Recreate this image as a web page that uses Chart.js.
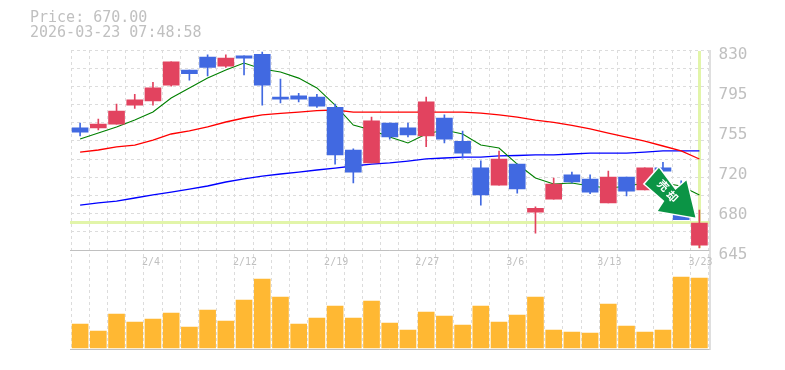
<!DOCTYPE html>
<html>
<head>
<meta charset="utf-8">
<title>Price chart</title>
<script src="https://cdn.jsdelivr.net/npm/chart.js@4/dist/chart.umd.min.js"></script>
<style>
    body { margin: 0; background: #fff; }
    #info { position: absolute; left: 30px; top: 10px; font: 15px/15px "DejaVu Sans Mono", monospace; color: #c0c0c0; white-space: pre; }
</style>
</head>
<body>
<div id="info">Price: 670.00
2026-03-23 07:48:58</div>
<canvas id="chart" width="785" height="370" style="display:block"></canvas>
<script>
const dates = ['1/29', '1/30', '2/2', '2/3', '2/4', '2/5', '2/6', '2/9', '2/10', '2/12', '2/13', '2/16', '2/17', '2/18', '2/19', '2/20', '2/24', '2/25', '2/26', '2/27', '3/2', '3/3', '3/4', '3/5', '3/6', '3/9', '3/10', '3/11', '3/12', '3/13', '3/16', '3/17', '3/18', '3/19', '3/23'];
const opens = [758, 758, 761.5, 779, 783, 797.5, 811.5, 823.5, 815, 824.5, 826, 786.5, 787.5, 786.5, 777, 737.5, 725.5, 762.5, 758, 750.5, 767, 745.5, 721, 705, 724.5, 680, 692, 714.5, 710.5, 688.5, 712.5, 700.5, 721, 691, 649.5];
const highs = [762.5, 766, 780, 789, 800, 819, 811.5, 825.5, 825.5, 824.5, 828, 803, 790, 789, 780, 738.5, 768, 762.5, 762.5, 786.5, 770, 755, 727.5, 736.5, 724.5, 685, 711.5, 717, 714.5, 718, 712.5, 721, 726, 709, 682];
const lows = [750.5, 756, 761.5, 776, 779, 796.5, 802, 806, 814, 807, 779, 781, 782, 777, 724.5, 707, 725.5, 747.5, 749.5, 740.5, 744, 730, 686.5, 705, 697.5, 660.5, 692, 707, 697, 688.5, 695, 700.5, 713, 673, 647];
const closes = [754, 761.5, 773.5, 784, 795, 819, 808, 814, 822.5, 822.5, 797.5, 784.5, 784.5, 778, 733, 717, 764.5, 749.5, 751.5, 782, 747.5, 734.5, 696, 729, 701.5, 683.5, 706, 708, 698.5, 712.5, 699.5, 721, 718, 673, 670];
const maShort = [747.7, 753.2, 758.8, 765.2, 772.6, 785.6, 794.9, 804, 811.5, 818, 812.4, 809.6, 804, 794.9, 779.1, 760.6, 756, 749.5, 744, 752.3, 756, 752.3, 742.2, 739.3, 724.5, 711.6, 706, 707, 704.2, 702.3, 704, 707, 707, 704.2, 695.9];
const maMid = [735.6, 737.5, 740.3, 742.1, 746.7, 752.3, 755.1, 758.8, 763.4, 767.1, 769.9, 771.3, 772.6, 774, 774.5, 772.6, 772.6, 772.6, 772.6, 772.6, 772.6, 772.6, 771.7, 769.9, 768, 765.2, 763, 760.2, 757, 753.2, 749.5, 745.8, 741.2, 736.6, 729.2];
const maLong = [686.6, 688.5, 690.3, 693.1, 695.9, 698.6, 701.4, 704.2, 707.9, 710.7, 713.4, 715.3, 717.1, 719, 720.8, 722.7, 724.5, 725.5, 727.3, 729.2, 730.1, 731, 731, 732, 732.4, 732.9, 732.9, 733.8, 734.7, 734.7, 734.7, 735.6, 736.6, 736.6, 736.6];
const volumes = [24, 17, 34, 26, 29, 35, 21, 38, 27, 48, 69, 51, 24, 30, 42, 30, 47, 25, 18, 36, 32, 23, 42, 26, 33, 51, 18, 16, 15, 44, 22, 16, 18, 71, 70];
const priceTicks = [830, 793, 756, 719, 682, 645];
const priceLabels = ['830', '795', '755', '720', '680', '645'];
const lastPrice = 670;
const signalText = ['売', '却'];

const GREY = '#c0c0c0';
const priceMax = 830, priceMin = 645;
// price pane is 2/3 of the plot, volume pane the rest
const axisBottom = priceMin - (priceMax - priceMin) / 2;
const gridTicks = Array.from({ length: 12 }, (_, i) => priceMin + i * (priceMax - priceMin) / 11);

const framePlugin = {
    id: 'frame',
    beforeDatasetsDraw(chart) {
        const { ctx, chartArea: a, scales } = chart;
        const py = Math.round(scales.y.getPixelForValue(lastPrice)) - 0.5;
        const px = Math.floor(scales.x.getPixelForValue(dates.length - 1)) + 0.5;
        ctx.save();
        // current price cross
        ctx.strokeStyle = '#e2f5a9';
        ctx.lineWidth = 3;
        ctx.beginPath();
        ctx.moveTo(a.left - 1, py);
        ctx.lineTo(a.right + 1, py);
        ctx.moveTo(px, a.top + 1);
        ctx.lineTo(px, scales.y.getPixelForValue(priceMin) - 2);
        ctx.stroke();
        // pane borders
        const mid = Math.round(scales.y.getPixelForValue(priceMin)) + 0.5;
        ctx.strokeStyle = GREY;
        ctx.lineWidth = 1;
        ctx.beginPath();
        ctx.moveTo(a.left - 1, mid);
        ctx.lineTo(a.right + 1, mid);
        ctx.moveTo(a.left - 1, a.bottom - 0.5);
        ctx.lineTo(a.right + 1, a.bottom - 0.5);
        ctx.moveTo(a.right + 1.5, a.top);
        ctx.lineTo(a.right + 1.5, a.bottom);
        ctx.stroke();
        ctx.restore();
    },
    afterDatasetsDraw(chart) {
        // signal arrow pointing at the last candle
        const { ctx, scales } = chart;
        const tx = scales.x.getPixelForValue(dates.length - 1) - 4;
        const ty = scales.y.getPixelForValue(lastPrice) - 5.5;
        const shape = [[-36.5, -49.5], [-50.5, -33.5], [-31, -16.5], [-37.5, -6.5], [0, 0], [-9, -37], [-20, -27.5]];
        ctx.save();
        ctx.translate(tx, ty);
        ctx.beginPath();
        shape.forEach((p, i) => i ? ctx.lineTo(p[0], p[1]) : ctx.moveTo(p[0], p[1]));
        ctx.closePath();
        ctx.lineJoin = 'miter';
        ctx.lineWidth = 3;
        ctx.strokeStyle = '#fff';
        ctx.stroke();
        ctx.fillStyle = '#0b9445';
        ctx.fill();
        ctx.fillStyle = '#fff';
        ctx.font = 'bold 11px "Noto Sans CJK JP"';
        ctx.textAlign = 'center';
        ctx.textBaseline = 'middle';
        [[-32, -32], [-23, -21]].forEach((p, i) => {
            ctx.save();
            ctx.translate(p[0], p[1]);
            ctx.rotate(Math.PI / 4);
            ctx.fillText(signalText[i], 0, 0);
            ctx.restore();
        });
        ctx.restore();
    }
};

new Chart(document.getElementById('chart').getContext('2d'), {
    type: 'bar',
    plugins: [framePlugin],
    data: {
        labels: dates,
        datasets: [
            { type: 'line', data: maLong, yAxisID: 'y', borderColor: '#0000ff', borderWidth: 1.3, pointRadius: 0, tension: 0, order: 5 },
            { type: 'line', data: maMid, yAxisID: 'y', borderColor: '#ff0000', borderWidth: 1.3, pointRadius: 0, tension: 0, order: 4 },
            { type: 'line', data: maShort, yAxisID: 'y', borderColor: '#008000', borderWidth: 1.1, pointRadius: 0, tension: 0, order: 3 },
            {
                data: lows.map((l, i) => [l, highs[i]]),
                yAxisID: 'y',
                grouped: false,
                barThickness: 1,
                backgroundColor: closes.map((c, i) => c >= opens[i] ? '#e2435f' : '#4169e1'),
                order: 2
            },
            {
                data: opens.map((o, i) => [o, closes[i]]),
                yAxisID: 'y',
                grouped: false,
                barThickness: 16,
                backgroundColor: closes.map((c, i) => c >= opens[i] ? '#e2435f' : '#4169e1'),
                order: 1
            },
            {
                data: volumes,
                yAxisID: 'yVol',
                grouped: false,
                barThickness: 16,
                backgroundColor: '#ffb833',
                order: 1
            }
        ]
    },
    options: {
        responsive: false,
        animation: false,
        layout: { padding: { left: 71, top: 50, bottom: 20, right: 0 } },
        plugins: { legend: { display: false }, tooltip: { enabled: false } },
        scales: {
            x: {
                position: { y: priceMin },
                afterFit(scale) { scale.height = 0; },
                border: { display: false, dash: [3, 3] },
                grid: { offset: true, color: '#dcdcdc', lineWidth: 1, drawTicks: false },
                ticks: {
                    autoSkip: false,
                    maxRotation: 0,
                    align: 'start',
                    padding: 6,
                    labelOffset: -11,
                    color: GREY,
                    font: { family: '"DejaVu Sans Mono", monospace', size: 10 },
                    callback(value, index) { return index % 5 === 4 ? dates[index] : ''; }
                }
            },
            y: {
                position: 'right',
                min: axisBottom,
                max: priceMax,
                afterFit(scale) { scale.width = 76.5; },
                afterBuildTicks(scale) { scale.ticks = priceTicks.map(v => ({ value: v })); },
                border: { display: false },
                grid: { display: false, drawTicks: false },
                ticks: {
                    padding: 10,
                    labelOffset: 5,
                    color: GREY,
                    font: { family: '"DejaVu Sans Mono", monospace', size: 16 },
                    callback(value) { return priceLabels[priceTicks.indexOf(value)]; }
                }
            },
            yGrid: {
                position: 'right',
                min: axisBottom,
                max: priceMax,
                afterFit(scale) { scale.width = 0; },
                afterBuildTicks(scale) { scale.ticks = gridTicks.map(v => ({ value: v })); },
                border: { display: false, dash: [3, 3] },
                grid: { color: '#dcdcdc', lineWidth: 1, drawTicks: false },
                ticks: { display: false }
            },
            yVol: {
                display: false,
                min: -2,
                max: 298
            }
        }
    }
});
</script>
</body>
</html>
